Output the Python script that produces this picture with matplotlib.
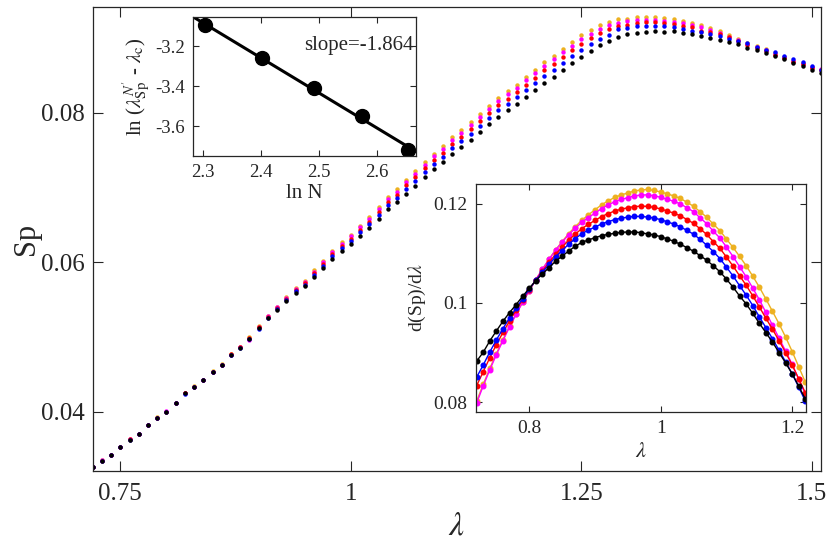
import numpy as np
import matplotlib
matplotlib.use("Agg")
import matplotlib.pyplot as plt

plt.rcParams['font.family'] = ['Liberation Serif', 'DejaVu Serif']
plt.rcParams['mathtext.fontset'] = 'stix'
plt.rcParams['axes.unicode_minus'] = False

# main panel: Sp vs lambda, step 0.01 from 0.72 to 1.51
lam = np.round(np.arange(72, 152) / 100.0, 2)

sp_black = [0.03265, 0.03345, 0.03425, 0.03532, 0.03630, 0.03702, 0.03818, 0.03920, 0.04005, 0.04121,
            0.04246, 0.04335, 0.04420, 0.04531, 0.04625, 0.04754, 0.04852, 0.04977, 0.05115, 0.05249,
            0.05361, 0.05477, 0.05592, 0.05677, 0.05806, 0.05927, 0.06047, 0.06154, 0.06243, 0.06355,
            0.06457, 0.06578, 0.06707, 0.06801, 0.06917, 0.07024, 0.07135, 0.07242, 0.07336, 0.07452,
            0.07541, 0.07639, 0.07742, 0.07849, 0.07947, 0.08032, 0.08116, 0.08214, 0.08304, 0.08402,
            0.08482, 0.08576, 0.08660, 0.08745, 0.08825, 0.08901, 0.08959, 0.09013, 0.09053, 0.09066,
            0.09080, 0.09089, 0.09080, 0.09089, 0.09066, 0.09048, 0.09026, 0.08999, 0.08977, 0.08946,
            0.08915, 0.08866, 0.08843, 0.08794, 0.08759, 0.08714, 0.08669, 0.08629, 0.08576, 0.08531]

sp_blue = [0.03265, 0.03345, 0.03425, 0.03529, 0.03625, 0.03699, 0.03818, 0.03920, 0.04005, 0.04121,
           0.04243, 0.04330, 0.04420, 0.04531, 0.04625, 0.04757, 0.04852, 0.04972, 0.05112, 0.05249,
           0.05371, 0.05491, 0.05610, 0.05699, 0.05832, 0.05957, 0.06081, 0.06192, 0.06285, 0.06401,
           0.06507, 0.06632, 0.06765, 0.06862, 0.06982, 0.07092, 0.07205, 0.07315, 0.07411, 0.07530,
           0.07621, 0.07721, 0.07826, 0.07935, 0.08035, 0.08121, 0.08206, 0.08305, 0.08396, 0.08495,
           0.08576, 0.08669, 0.08754, 0.08843, 0.08923, 0.08986, 0.09044, 0.09120, 0.09138, 0.09155,
           0.09160, 0.09160, 0.09160, 0.09142, 0.09124, 0.09093, 0.09084, 0.09057, 0.09030, 0.08990,
           0.08955, 0.08928, 0.08883, 0.08843, 0.08808, 0.08759, 0.08714, 0.08674, 0.08629, 0.08576]

sp_red = [0.03265, 0.03348, 0.03430, 0.03534, 0.03635, 0.03702, 0.03818, 0.03923, 0.04005, 0.04121,
          0.04246, 0.04338, 0.04420, 0.04536, 0.04628, 0.04769, 0.04862, 0.04989, 0.05133, 0.05270,
          0.05388, 0.05510, 0.05631, 0.05722, 0.05857, 0.05984, 0.06110, 0.06223, 0.06318, 0.06436,
          0.06544, 0.06671, 0.06806, 0.06906, 0.07028, 0.07141, 0.07255, 0.07368, 0.07465, 0.07587,
          0.07679, 0.07780, 0.07886, 0.07996, 0.08097, 0.08185, 0.08272, 0.08373, 0.08466, 0.08566,
          0.08647, 0.08741, 0.08834, 0.08915, 0.08999, 0.09062, 0.09115, 0.09155, 0.09178, 0.09200,
          0.09209, 0.09209, 0.09196, 0.09187, 0.09160, 0.09142, 0.09097, 0.09080, 0.09048, 0.09017,
          0.08959, 0.08901, 0.08870, 0.08821, 0.08776, 0.08732, 0.08683, 0.08647, 0.08598, 0.08576]

sp_magenta = [0.03265, 0.03353, 0.03428, 0.03527, 0.03633, 0.03702, 0.03820, 0.03920, 0.04007, 0.04121,
              0.04246, 0.04335, 0.04425, 0.04539, 0.04630, 0.04764, 0.04864, 0.04967, 0.05140, 0.05279,
              0.05398, 0.05523, 0.05646, 0.05739, 0.05877, 0.06006, 0.06134, 0.06249, 0.06347, 0.06467,
              0.06577, 0.06707, 0.06844, 0.06946, 0.07071, 0.07186, 0.07301, 0.07416, 0.07514, 0.07639,
              0.07732, 0.07834, 0.07941, 0.08052, 0.08155, 0.08244, 0.08332, 0.08434, 0.08528, 0.08630,
              0.08712, 0.08808, 0.08897, 0.08982, 0.09057, 0.09115, 0.09169, 0.09204, 0.09227, 0.09236,
              0.09240, 0.09240, 0.09231, 0.09218, 0.09204, 0.09169, 0.09142, 0.09106, 0.09071, 0.09017,
              0.08973, 0.08915, 0.08879, 0.08834, 0.08785, 0.08741, 0.08687, 0.08652, 0.08607, 0.08585]

sp_orange = [0.03265, 0.03350, 0.03425, 0.03532, 0.03625, 0.03702, 0.03818, 0.03925, 0.04005, 0.04121,
             0.04246, 0.04340, 0.04430, 0.04546, 0.04635, 0.04769, 0.04872, 0.05002, 0.05145, 0.05284,
             0.05406, 0.05532, 0.05657, 0.05752, 0.05891, 0.06022, 0.06152, 0.06269, 0.06368, 0.06490,
             0.06602, 0.06733, 0.06872, 0.06976, 0.07102, 0.07219, 0.07335, 0.07452, 0.07551, 0.07677,
             0.07771, 0.07874, 0.07982, 0.08094, 0.08197, 0.08287, 0.08376, 0.08479, 0.08574, 0.08677,
             0.08757, 0.08852, 0.08945, 0.09039, 0.09106, 0.09169, 0.09213, 0.09249, 0.09258, 0.09280,
             0.09276, 0.09276, 0.09267, 0.09249, 0.09231, 0.09195, 0.09169, 0.09133, 0.09097, 0.09036,
             0.08991, 0.08928, 0.08892, 0.08848, 0.08795, 0.08750, 0.08696, 0.08660, 0.08616, 0.08571]

# derivative inset, lambda 0.72 .. 1.22
lam_d = np.round(np.arange(72, 123) / 100.0, 2)

d_black = [0.08825, 0.09006, 0.09234, 0.09436, 0.09631, 0.09806, 0.09967, 0.10135, 0.10296, 0.10451,
           0.10585, 0.10713, 0.10841, 0.10942, 0.11049, 0.11143, 0.11224, 0.11271, 0.11318, 0.11358,
           0.11385, 0.11405, 0.11425, 0.11432, 0.11432, 0.11419, 0.11392, 0.11372, 0.11338, 0.11291,
           0.11244, 0.11183, 0.11116, 0.11042, 0.10955, 0.10861, 0.10750, 0.10630, 0.10480, 0.10320,
           0.10140, 0.09980, 0.09790, 0.09590, 0.09400, 0.09210, 0.09000, 0.08790, 0.08570, 0.08320,
           0.08060]

d_blue = [0.08503, 0.08748, 0.09012, 0.09254, 0.09483, 0.09696, 0.09892, 0.10089, 0.10278, 0.10458,
          0.10622, 0.10778, 0.10930, 0.11058, 0.11186, 0.11298, 0.11398, 0.11470, 0.11532, 0.11594,
          0.11642, 0.11681, 0.11712, 0.11731, 0.11747, 0.11746, 0.11733, 0.11713, 0.11681, 0.11636,
          0.11592, 0.11535, 0.11463, 0.11387, 0.11282, 0.11165, 0.11036, 0.10896, 0.10723, 0.10544,
          0.10348, 0.10157, 0.09948, 0.09721, 0.09502, 0.09278, 0.09046, 0.08811, 0.08570, 0.08297,
          0.08019]

d_red = [0.08334, 0.08612, 0.08896, 0.09158, 0.09405, 0.09638, 0.09853, 0.10065, 0.10268, 0.10463,
         0.10644, 0.10817, 0.10983, 0.11127, 0.11267, 0.11389, 0.11501, 0.11587, 0.11666, 0.11744,
         0.11804, 0.11855, 0.11893, 0.11921, 0.11945, 0.11953, 0.11949, 0.11929, 0.11897, 0.11855,
         0.11812, 0.11758, 0.11683, 0.11605, 0.11495, 0.11382, 0.11237, 0.11103, 0.10926, 0.10744,
         0.10548, 0.10357, 0.10143, 0.09919, 0.09692, 0.09470, 0.09238, 0.08998, 0.08746, 0.08468,
         0.08189]

d_magenta = [0.07980, 0.08328, 0.08652, 0.08957, 0.09241, 0.09516, 0.09771, 0.10014, 0.10248, 0.10471,
             0.10681, 0.10878, 0.11063, 0.11225, 0.11379, 0.11508, 0.11630, 0.11724, 0.11813, 0.11905,
             0.11979, 0.12043, 0.12089, 0.12125, 0.12161, 0.12177, 0.12182, 0.12162, 0.12132, 0.12091,
             0.12050, 0.11999, 0.11920, 0.11841, 0.11716, 0.11600, 0.11447, 0.11311, 0.11128, 0.10936,
             0.10732, 0.10527, 0.10300, 0.10065, 0.09808, 0.09551, 0.09290, 0.09029, 0.08759, 0.08460,
             0.08162]

d_orange = [0.0802, 0.0836, 0.0868, 0.0898, 0.0926, 0.0953, 0.0978, 0.1002, 0.1025, 0.1047,
            0.1068, 0.1088, 0.1107, 0.1124, 0.1140, 0.1154, 0.1167, 0.1178, 0.1188, 0.1198,
            0.1206, 0.1213, 0.1218, 0.1222, 0.1226, 0.1228, 0.1229, 0.1227, 0.1224, 0.1220,
            0.1216, 0.1211, 0.1203, 0.1195, 0.1184, 0.1173, 0.1159, 0.1146, 0.1129, 0.1112,
            0.1094, 0.1075, 0.1054, 0.1032, 0.1008, 0.0983, 0.0958, 0.0931, 0.0902, 0.0871,
            0.0840]

# scaling inset
ln_N = [2.303, 2.401, 2.491, 2.575, 2.655]
ln_dlam = [-3.095, -3.262, -3.412, -3.550, -3.720]

colors = ['#EDB120', '#FF00FF', '#FF0000', '#0000FF', '#000000']
sp_all = [sp_orange, sp_magenta, sp_red, sp_blue, sp_black]
d_all = [d_orange, d_magenta, d_red, d_blue, d_black]

axc = '#262626'


def style(ax, size, ticklen):
    ax.tick_params(direction='in', top=True, right=True, length=ticklen,
                   width=0.8, colors=axc, labelsize=size, pad=6)
    for s in ax.spines.values():
        s.set_color(axc)
        s.set_linewidth(0.9)


fig = plt.figure(figsize=(8.3, 5.47), dpi=100)

ax = fig.add_axes([0.1117, 0.139, 0.8775, 0.8477])
for c, y in zip(colors, sp_all):
    ax.plot(lam, y, 'o', color=c, ms=3.2, mec='none')
ax.set_xlim(0.72, 1.51)
ax.set_ylim(0.0321, 0.0941)
ax.set_xticks([0.75, 1, 1.25, 1.5])
ax.set_xticklabels(['0.75', '1', '1.25', '1.5'])
ax.set_yticks([0.04, 0.06, 0.08])
ax.set_yticklabels(['0.04', '0.06', '0.08'])
style(ax, 18, 7)
ax.tick_params(axis='x', pad=9)
ax.set_xlabel(r'$\lambda$', fontsize=24, color=axc, labelpad=4)
ax.set_ylabel('Sp', fontsize=22, color=axc, labelpad=0)

# top-left inset
ax1 = fig.add_axes([0.2329, 0.7148, 0.2683, 0.2536])
fit = np.polyfit(ln_N, ln_dlam, 1)
xs = np.array([2.27, 2.68])
ax1.plot(xs, np.polyval(fit, xs), '-', color='k', lw=2.2)
ax1.plot(ln_N, ln_dlam, 'o', color='k', ms=10)
ax1.set_xlim(2.283, 2.668)
ax1.set_ylim(-3.75, -3.056)
ax1.set_xticks([2.3, 2.4, 2.5, 2.6])
ax1.set_yticks([-3.2, -3.4, -3.6])
style(ax1, 13.5, 4)
ax1.set_xlabel('ln N', fontsize=15, color=axc, labelpad=2)
ax1.set_ylabel(r'ln ($\lambda^{N^{\prime}}_{\rm Sp}$ - $\lambda_{\rm c}$)', fontsize=15,
               color=axc, labelpad=2)
ax1.text(0.99, 0.80, 'slope=-1.864', transform=ax1.transAxes, ha='right', va='center',
         fontsize=15, color=axc)

# derivative inset
ax2 = fig.add_axes([0.5735, 0.2468, 0.3976, 0.4168])
for c, y in zip(colors, d_all):
    ax2.plot(lam_d, y, '-o', color=c, lw=1.0, ms=3.3, mec=c)
ax2.set_xlim(0.719, 1.221)
ax2.set_ylim(0.078, 0.124)
ax2.set_xticks([0.8, 1, 1.2])
ax2.set_xticklabels(['0.8', '1', '1.2'])
ax2.set_yticks([0.08, 0.1, 0.12])
ax2.set_yticklabels(['0.08', '0.1', '0.12'])
style(ax2, 14, 4)
ax2.set_xlabel(r'$\lambda$', fontsize=16, color=axc, labelpad=4)
ax2.set_ylabel(r'd(Sp)/d$\lambda$', fontsize=14, color=axc, labelpad=4)

fig.savefig('out.png', dpi=100)
